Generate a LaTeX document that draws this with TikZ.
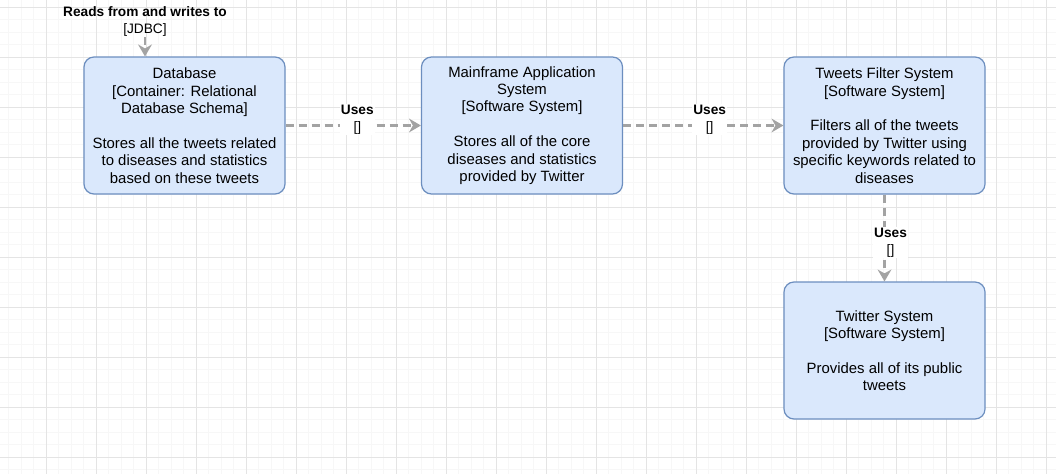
\documentclass[tikz,border=0pt]{standalone}
\usepackage{fontspec}
\setmainfont{Liberation Sans}
\usetikzlibrary{arrows.meta}
\usetikzlibrary{positioning}

\definecolor{boxfill}{RGB}{218,232,252}
\definecolor{boxline}{RGB}{108,142,191}
\definecolor{edgegray}{RGB}{163,163,163}
\definecolor{majorgrid}{RGB}{228,228,228}
\definecolor{minorgrid}{RGB}{247,247,247}

\tikzset{
  sysbox/.style={rectangle,rounded corners=10pt,draw=boxline,fill=boxfill,line width=1.2pt,
    minimum width=201pt,minimum height=137pt,align=center,inner sep=0pt,
    font=\fontsize{14.9}{17.4}\selectfont},
  uses/.style={draw=edgegray,line width=2.6pt,dash pattern=on 8pt off 5pt,
    -{Stealth[length=12pt,width=14pt,inset=4pt,fill=edgegray,line width=0pt]}},
  useslabel/.style={fill=white,inner sep=1pt,align=center,font=\fontsize{13.7}{17}\selectfont}
}

\begin{document}
\begin{tikzpicture}[x=1pt,y=-1pt]
\useasboundingbox (0,0) rectangle (1056,474);
\fill[white] (0,0) rectangle (1056,474);
% grid
\foreach \gx in {-4,8.5,...,1060} \draw[minorgrid,line width=1pt] (\gx,0) -- (\gx,474);
\foreach \gy in {-5.5,7,...,480} \draw[minorgrid,line width=1pt] (0,\gy) -- (1056,\gy);
\foreach \gx in {-4,46,...,1060} \draw[majorgrid,line width=1pt] (\gx,0) -- (\gx,474);
\foreach \gy in {7,57,...,480} \draw[majorgrid,line width=1pt] (0,\gy) -- (1056,\gy);

\node[sysbox] (db) at (184.5,125.5) {Database\\{}[Container: Relational\\Database Schema]\\[17.4pt]Stores all the tweets related\\to diseases and statistics\\based on these tweets};
\node[sysbox] (main) at (522,125.5) {Mainframe Application\\System\\{}[Software System]\\[17.4pt]Stores all of the core\\diseases and statistics\\provided by Twitter};
\node[sysbox] (filter) at (884.5,125.5) {Tweets Filter System\\{}[Software System]\\[17.4pt]Filters all of the tweets\\provided by Twitter using\\specific keywords related to\\diseases};
\node[sysbox] (twitter) at (884.5,350.5) {Twitter System\\{}[Software System]\\[17.4pt]Provides all of its public\\tweets};

\node[useslabel,fill=none] (rw) at (145,21) {\textbf{Reads from and writes to}\\{}[JDBC]};
\draw[uses] (rw.south) -- (rw.south |- db.north);

\draw[uses] (db) -- node[useslabel,pos=0.53,yshift=6pt] (l1) {\textbf{Uses}\\{}[]} (main);
\draw[uses] (main) -- node[useslabel,pos=0.54,yshift=6pt] (l2) {\textbf{Uses}\\{}[]} (filter);
\draw[uses] (filter) -- node[useslabel,pos=0.55,xshift=6pt] (l3) {\textbf{Uses}\\{}[]} (twitter);

\end{tikzpicture}
\end{document}
